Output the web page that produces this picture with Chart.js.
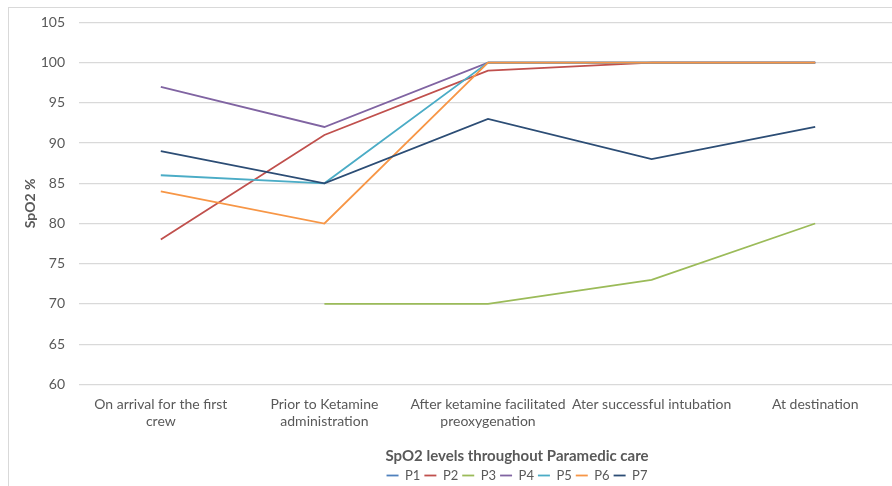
<!DOCTYPE html>
<html>
<head>
<meta charset="utf-8">
<script src="https://cdn.jsdelivr.net/npm/chart.js@4.4.1/dist/chart.umd.min.js"></script>
<style>
  html, body { margin: 0; padding: 0; background: #fff; overflow: hidden; }
  #frame { position: absolute; left: 8px; top: 7px; width: 1100px; height: 560px; border: 1px solid #d9d9d9; box-sizing: border-box; }
  #wrap { position: absolute; left: 0; top: 0; width: 1034px; height: 492px; }
</style>
</head>
<body>
<div id="frame"></div>
<div id="wrap"><canvas id="c" width="1034" height="492"></canvas></div>
<script>
// Care stages along the x axis (multi-line labels)
const categories = [
  ["On arrival for the first", "crew"],
  ["Prior to Ketamine", "administration"],
  ["After ketamine facilitated", "preoxygenation"],
  "Ater successful intubation",
  "At destination"
];

// SpO2 (%) per patient at each stage
const p1 = [null, null, 100, 100, 100];
const p2 = [78, 91, 99, 100, 100];
const p3 = [null, 70, 70, 73, 80];
const p4 = [97, 92, 100, 100, 100];
const p5 = [86, 85, 100, 100, 100];
const p6 = [84, 80, 100, 100, 100];
const p7 = [89, 85, 93, 88, 92];

const seriesNames = ["P1", "P2", "P3", "P4", "P5", "P6", "P7"];
const seriesValues = [p1, p2, p3, p4, p5, p6, p7];
const seriesColors = ["#4F81BD", "#C0504D", "#9BBB59", "#8064A2", "#4BACC6", "#F79646", "#2C4D75"];

const yTicks = [60, 65, 70, 75, 80, 85, 90, 95, 100, 105];

const FONT = "Lato, 'Open Sans', sans-serif";
const GREY = "#595959";

const datasets = seriesNames.map((name, i) => ({
  label: name,
  data: seriesValues[i],
  borderColor: seriesColors[i],
  backgroundColor: seriesColors[i],
  borderWidth: 1.8,
  pointRadius: 0,
  pointHoverRadius: 0,
  pointStyle: "line",
  tension: 0,
  spanGaps: false,
  fill: false,
  // later patients are drawn over earlier ones
  order: seriesNames.length - 1 - i
}));

new Chart(document.getElementById("c"), {
  type: "line",
  data: { labels: categories, datasets },
  options: {
    responsive: false,
    animation: false,
    events: [],
    layout: { padding: { left: 0, right: 0, top: 9, bottom: 0 } },
    scales: {
      x: {
        offset: true,
        grid: { display: false, drawTicks: false },
        border: { display: false },
        ticks: {
          color: GREY,
          font: { family: FONT, size: 14 },
          maxRotation: 0,
          autoSkip: false,
          padding: 12
        }
      },
      y: {
        min: 60,
        max: 105,
        afterBuildTicks: (axis) => { axis.ticks = yTicks.map(v => ({ value: v })); },
        afterFit: (axis) => { axis.width = 79; },
        grid: { color: "#d9d9d9", lineWidth: 1.3, drawTicks: false },
        border: { display: false },
        ticks: {
          color: GREY,
          font: { family: FONT, size: 14 },
          padding: 14
        },
        title: {
          display: true,
          text: "SpO2 %",
          color: GREY,
          font: { family: FONT, size: 14, weight: "bold" },
          padding: { top: 22, bottom: 0 }
        }
      },
      // empty right-hand strip: the plot runs on past the visible edge
      spare: {
        type: "linear",
        position: "right",
        min: 0,
        max: 1,
        afterFit: (axis) => { axis.width = 137; },
        grid: { display: false, drawTicks: false },
        border: { display: false },
        ticks: { display: false }
      }
    },
    plugins: {
      tooltip: { enabled: false },
      title: {
        display: true,
        position: "bottom",
        weight: 500,
        text: "SpO2 levels throughout Paramedic care",
        color: GREY,
        font: { family: FONT, size: 15, weight: "bold" },
        padding: { top: 5, bottom: 0 }
      },
      legend: {
        display: true,
        position: "bottom",
        weight: 1000,
        reverse: true,
        labels: {
          color: GREY,
          font: { family: FONT, size: 13 },
          usePointStyle: true,
          pointStyleWidth: 12,
          boxHeight: 10,
          padding: 4
        }
      }
    }
  }
});
</script>
</body>
</html>
